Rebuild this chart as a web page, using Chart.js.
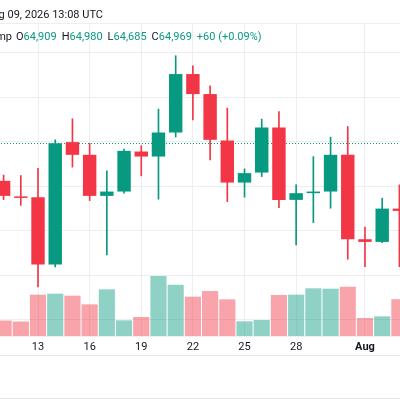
<!DOCTYPE html>
<html>
<head>
<meta charset="utf-8">
<script src="https://cdn.jsdelivr.net/npm/chart.js@4.4.1/dist/chart.umd.min.js"></script>
<style>
  html, body { margin: 0; padding: 0; width: 400px; height: 400px; overflow: hidden; background: #fff; }
  body { font-family: Roboto, "Noto Sans", sans-serif; color: #131722; position: relative; }
  #wrap { position: absolute; left: -5px; top: 0; width: 418px; height: 400px; }
  .hdr { position: absolute; font-size: 11px; white-space: nowrap; line-height: 13px; }
  #date { top: 8px; right: 297px; }
  #sym { top: 30px; right: 388px; }
  #ohlc { top: 30px; left: 16px; }
  #ohlc span { margin-right: 5px; }
  #ohlc span b { font-weight: normal; color: #089981; }
  .sep { position: absolute; left: 0; width: 400px; height: 1px; background: #e6e8ee; }
</style>
</head>
<body>
<div id="wrap"><canvas id="candleChart"></canvas></div>
<div class="hdr" id="date">Aug 09, 2026 13:08 UTC</div>
<div class="hdr" id="sym">Bitcoin / U.S. Dollar · 1D · Bitstamp</div>
<div class="hdr" id="ohlc"><span>O<b>64,909</b></span><span>H<b>64,980</b></span><span>L<b>64,685</b></span><span>C<b>64,969</b></span><span><b>+60 (+0.09%)</b></span></div>
<div class="sep" style="top:355px"></div>
<div class="sep" style="top:398px"></div>
<script>
// daily candles, Jul 11 - Aug 3
const dayLabels = ['11', '12', '13', '14', '15', '16', '17', '18', '19', '20', '21', '22',
    '23', '24', '25', '26', '27', '28', '29', '30', '31', 'Aug', '2', '3'];
const tickLabels = ['13', '16', '19', '22', '25', '28', 'Aug'];
const priceTicks = [61000, 62000, 63000, 64000, 65000, 66000, 67000];

const opens  = [64120, 63772, 63750, 62245, 64989, 64704, 63783, 63880, 64778, 64665, 65204, 66515,
    66066, 65025, 64082, 64306, 65317, 63693, 63844, 63880, 64704, 62811, 62751, 63498];
const highs  = [64250, 64239, 64401, 65040, 65512, 64962, 64344, 64832, 64910, 65730, 66926, 66702,
    66253, 65752, 64389, 65505, 65676, 64030, 64665, 65101, 65339, 63081, 63732, 64030];
const lows   = [63700, 63570, 61740, 62189, 64428, 63678, 62459, 63844, 64232, 63709, 65101, 65489,
    64591, 63655, 63754, 64216, 63521, 62683, 63184, 63507, 62362, 62196, 62735, 62196];
const closes = [63783, 63738, 62245, 64966, 64704, 63783, 63880, 64793, 64665, 65204, 66515, 66066,
    65040, 64082, 64293, 65317, 63693, 63844, 63880, 64704, 62811, 62751, 63498, 63446];
const volumes = [930, 870, 2480, 2540, 2420, 1900, 2800, 940, 1140, 3600, 3080, 2360,
    2700, 2200, 880, 960, 2460, 2480, 2860, 2840, 2960, 1080, 1180, 2210];
const lastPrice = 64969;

const upColor = '#089981';
const downColor = '#F23645';
const upVol = 'rgba(8, 153, 129, 0.45)';
const downVol = 'rgba(242, 54, 69, 0.45)';
const gridColor = '#eceef2';

const isUp = i => closes[i] >= opens[i];

const lastPriceLine = {
    id: 'lastPriceLine',
    beforeDatasetsDraw(chart) {
        const {ctx, chartArea} = chart;
        const y = Math.round(chart.scales.y.getPixelForValue(lastPrice)) + 0.5;
        ctx.save();
        ctx.strokeStyle = upColor;
        ctx.lineWidth = 1;
        ctx.setLineDash([1, 2]);
        ctx.beginPath();
        ctx.moveTo(chartArea.left, y);
        ctx.lineTo(chartArea.right, y);
        ctx.stroke();
        ctx.restore();
    }
};

const ctx = document.getElementById('candleChart');
const candleChart = new Chart(ctx, {
    type: 'bar',
    data: {
        labels: dayLabels,
        datasets: [{
            label: 'Body',
            data: dayLabels.map((_, i) => [opens[i], closes[i]]),
            backgroundColor: c => isUp(c.dataIndex) ? upColor : downColor,
            barPercentage: 0.78,
            categoryPercentage: 1,
            grouped: false,
            order: 1
        }, {
            label: 'Wick',
            data: dayLabels.map((_, i) => [lows[i], highs[i]]),
            backgroundColor: c => isUp(c.dataIndex) ? upColor : downColor,
            barThickness: 1,
            grouped: false,
            order: 2
        }, {
            label: 'Volume',
            data: volumes,
            yAxisID: 'yv',
            backgroundColor: c => isUp(c.dataIndex) ? upVol : downVol,
            barPercentage: 0.94,
            categoryPercentage: 1,
            grouped: false,
            order: 3
        }]
    },
    plugins: [lastPriceLine],
    options: {
        responsive: true,
        maintainAspectRatio: false,
        animation: false,
        layout: { padding: { top: 23, right: 5, bottom: 44, left: 0 } },
        plugins: { legend: { display: false }, tooltip: { enabled: false } },
        scales: {
            x: {
                offset: true,
                border: { display: false },
                grid: {
                    offset: false,
                    drawTicks: false,
                    color: c => tickLabels.includes(dayLabels[c.index]) ? gridColor : 'rgba(0,0,0,0)'
                },
                ticks: {
                    autoSkip: false,
                    maxRotation: 0,
                    padding: 5,
                    color: '#131722',
                    font: c => ({
                        family: 'Roboto',
                        size: 11,
                        weight: dayLabels[c.index] === 'Aug' ? 'bold' : 'normal'
                    }),
                    callback: (v, i) => tickLabels.includes(dayLabels[i]) ? dayLabels[i] : ''
                },
                afterFit: s => { s.height = 20; }
            },
            y: {
                position: 'right',
                min: 60641,
                max: 67660,
                border: { display: false },
                grid: { color: gridColor, drawTicks: false },
                ticks: { display: false },
                afterBuildTicks: s => {
                    s.ticks = [s.min, ...priceTicks, s.max].map(v => ({ value: v }));
                },
                afterFit: s => { s.width = 0; }
            },
            yv: {
                display: false,
                min: 0,
                max: 18780
            }
        }
    }
});
</script>
</body>
</html>
